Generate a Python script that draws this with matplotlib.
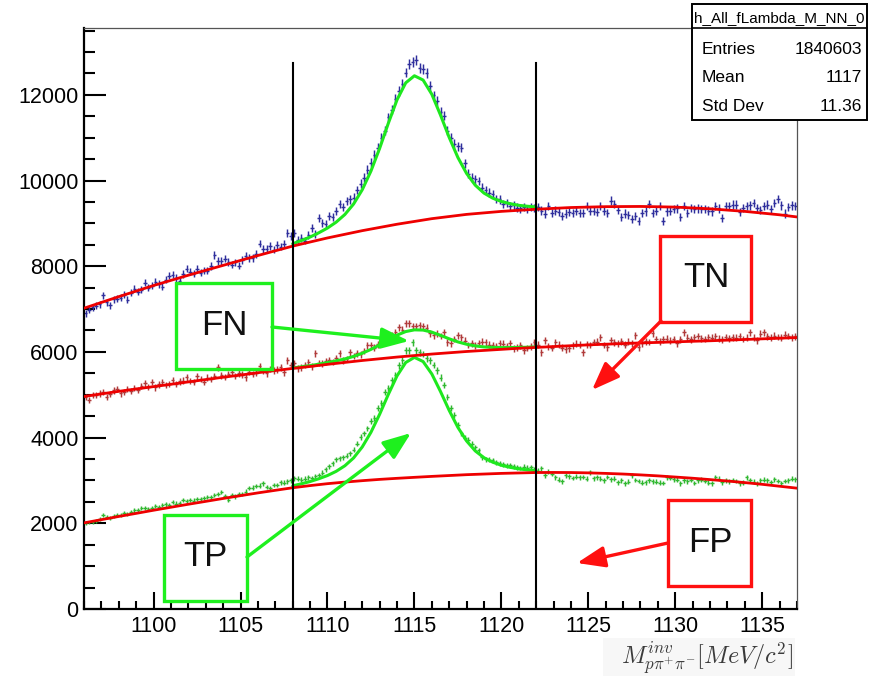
import numpy as np
import matplotlib
matplotlib.use("Agg")
import matplotlib.pyplot as plt
from matplotlib.patches import Rectangle, FancyArrowPatch, ArrowStyle
from matplotlib.lines import Line2D
from matplotlib.ticker import MultipleLocator, FormatStrFormatter

plt.rcParams['font.family'] = ['Liberation Sans', 'DejaVu Sans']
plt.rcParams['mathtext.fontset'] = 'cm'

# ---------------- data ----------------
bin_first_center = 1096.1
bin_width = 0.2

# histogram: all candidates (blue)
all_counts = [
    6900, 6990, 7040, 7080, 7110,
    7320, 7160, 7085, 7225, 7240,
    7270, 7340, 7220, 7380, 7480,
    7410, 7450, 7620, 7500, 7550,
    7640, 7590, 7525, 7690, 7780,
    7805, 7720, 7665, 7820, 7945,
    7875, 7830, 7945, 7850, 7900,
    7900, 8010, 8270, 8130, 8130,
    8180, 8100, 8040, 8090, 8015,
    8150, 8250, 8200, 8200, 8290,
    8530, 8410, 8410, 8480, 8390,
    8505, 8460, 8530, 8785, 8700,
    8785, 8620, 8660, 8600, 8720,
    8900, 8760, 9130, 9000, 8990,
    9180, 9150, 9297, 9460, 9380,
    9520, 9560, 9600, 9780, 9926,
    10066, 10250, 10420, 10600, 10765,
    11000, 11160, 11480, 11650, 11906,
    12090, 12256, 12520, 12720, 12770,
    12815, 12630, 12600, 12510, 12210,
    11990, 11860, 11600, 11510, 11160,
    11000, 10860, 10800, 10765, 10400,
    10160, 10066, 10030, 9990, 9833,
    9780, 9716, 9680, 9576, 9560,
    9460, 9480, 9400, 9420, 9370,
    9350, 9390, 9330, 9380, 9360,
    9380, 9300, 9230, 9410, 9250,
    9300, 9270, 9180, 9230, 9260,
    9240, 9290, 9250, 9240, 9410,
    9290, 9300, 9260, 9410, 9290,
    9250, 9530, 9460, 9320, 9140,
    9230, 9200, 9110, 9170, 9060,
    9250, 9280, 9460, 9250, 9300,
    9410, 9060, 9280, 9300, 9330,
    9350, 9140, 9410, 9250, 9360,
    9340, 9350, 9330, 9340, 9300,
    9280, 9400, 9350, 9130, 9400,
    9410, 9440, 9440, 9260, 9360,
    9400, 9420, 9480, 9360, 9320,
    9410, 9440, 9330, 9480, 9570,
    9420, 9230, 9380, 9420, 9410,
]

# histogram: NN rejected (FN + TN, dark red)
rej_counts = [
    4940, 4880, 4990, 5000, 5030,
    5060, 4950, 5010, 5100, 5130,
    5030, 5060, 5140, 5080, 5150,
    5120, 5210, 5265, 5180, 5290,
    5170, 5240, 5290, 5220, 5250,
    5340, 5260, 5310, 5330, 5405,
    5320, 5300, 5430, 5360, 5290,
    5400, 5370, 5440, 5640, 5450,
    5420, 5490, 5520, 5440, 5500,
    5470, 5405, 5540, 5490, 5510,
    5660, 5560, 5500, 5600, 5570,
    5590, 5640, 5520, 5800, 5690,
    5730, 5615, 5640, 5700, 5755,
    5660, 5965, 5740, 5730, 5780,
    5800, 5760, 5850, 5965, 5800,
    5830, 5990, 5900, 5965, 5940,
    6020, 6150, 6150, 6100, 6180,
    6220, 6315, 6290, 6380, 6455,
    6570, 6520, 6665, 6665, 6600,
    6595, 6620, 6595, 6560, 6430,
    6385, 6420, 6370, 6455, 6220,
    6200, 6300, 6385, 6340, 6260,
    6160, 6200, 6150, 6200, 6240,
    6220, 6170, 6150, 6130, 6200,
    6190, 6140, 6200, 6080, 6105,
    6150, 6035, 6090, 6130, 6220,
    6170, 5990, 6270, 6130, 6090,
    6220, 6170, 6100, 6060, 6080,
    6150, 6190, 6170, 5990, 6180,
    6160, 6230, 6240, 6340, 6160,
    6110, 6280, 6220, 6200, 6250,
    6170, 6240, 6200, 6385, 6105,
    6200, 6250, 6230, 6430, 6300,
    6250, 6290, 6310, 6260, 6300,
    6200, 6290, 6455, 6330, 6290,
    6340, 6370, 6320, 6300, 6340,
    6330, 6360, 6310, 6290, 6350,
    6320, 6340, 6330, 6360, 6300,
    6330, 6455, 6330, 6270, 6420,
    6455, 6360, 6340, 6380, 6350,
    6330, 6400, 6370, 6340, 6360,
]

# histogram: NN accepted (TP + FP, green)
acc_counts = [
    2004, 2020, 2027, 2060, 2110,
    2190, 2150, 2120, 2160, 2190,
    2190, 2250, 2220, 2270, 2300,
    2300, 2353, 2350, 2330, 2360,
    2400, 2377, 2420, 2440, 2430,
    2493, 2460, 2480, 2540, 2520,
    2540, 2530, 2560, 2570, 2590,
    2610, 2620, 2660, 2690, 2726,
    2640, 2540, 2656, 2630, 2690,
    2680, 2740, 2820, 2830, 2870,
    2880, 2936, 2850, 2820, 2890,
    2890, 2960, 2950, 2980, 3000,
    3052, 3040, 3020, 3040, 3075,
    3060, 3100, 3122, 3180, 3260,
    3330, 3400, 3500, 3518, 3540,
    3580, 3635, 3720, 3860, 4010,
    4100, 4215, 4380, 4450, 4683,
    4800, 5056, 5150, 5335, 5450,
    5685, 5800, 6035, 6035, 6220,
    6035, 5990, 5950, 5850, 5800,
    5700, 5570, 5400, 5220, 4940,
    4700, 4520, 4300, 4100, 4000,
    3940, 3850, 3775, 3700, 3540,
    3500, 3480, 3470, 3420, 3400,
    3380, 3360, 3355, 3330, 3310,
    3290, 3320, 3300, 3310, 3250,
    3230, 3285, 3122, 3200, 3150,
    3075, 3020, 2982, 3120, 3100,
    3060, 3090, 3070, 3080, 3040,
    3192, 3050, 3070, 3040, 3005,
    3080, 3030, 3040, 2960, 3000,
    2936, 2970, 3122, 3010, 2990,
    2950, 2960, 3000, 2980, 2970,
    2950, 2940, 3075, 3060, 3030,
    3020, 2936, 3000, 2980, 3010,
    2940, 3005, 3020, 2990, 2950,
    2936, 3075, 3040, 2960, 3005,
    2980, 3010, 2990, 2936, 2950,
    3075, 3000, 2970, 2936, 3005,
    3020, 3000, 2960, 3030, 2990,
    2940, 2990, 3005, 3040, 3029,
]

# background fit curves, sampled every 1 MeV from 1096 to 1137
bkg_x = [1096, 1097, 1098, 1099, 1100, 1101, 1102, 1103, 1104, 1105, 1106,
         1107, 1108, 1109, 1110, 1111, 1112, 1113, 1114, 1115, 1116, 1117,
         1118, 1119, 1120, 1121, 1122, 1123, 1124, 1125, 1126, 1127, 1128,
         1129, 1130, 1131, 1132, 1133, 1134, 1135, 1136, 1137]
all_bkg = [7020, 7155, 7290, 7420, 7550, 7670, 7790, 7905, 8020, 8135, 8250,
           8360, 8470, 8565, 8660, 8745, 8830, 8905, 8980, 9045, 9110, 9160,
           9210, 9245, 9280, 9305, 9330, 9350, 9370, 9380, 9390, 9393, 9395,
           9388, 9380, 9360, 9340, 9310, 9280, 9240, 9200, 9150]
rej_bkg = [4960, 5020, 5080, 5135, 5190, 5245, 5300, 5355, 5410, 5460, 5515,
           5565, 5615, 5660, 5710, 5755, 5800, 5840, 5880, 5915, 5950, 5980,
           6010, 6035, 6060, 6085, 6105, 6125, 6145, 6165, 6180, 6195, 6210,
           6222, 6235, 6248, 6260, 6275, 6290, 6305, 6320, 6335]
acc_bkg = [2010, 2085, 2160, 2232, 2305, 2375, 2445, 2512, 2580, 2645, 2710,
           2770, 2830, 2880, 2925, 2962, 2995, 3025, 3050, 3073, 3095, 3115,
           3135, 3150, 3165, 3175, 3185, 3187, 3185, 3177, 3165, 3150, 3130,
           3107, 3080, 3052, 3020, 2987, 2950, 2910, 2865, 2820]

# signal + background fit curves, sampled every 0.5 MeV from 1108 to 1122
peak_x = [1108.0, 1108.5, 1109.0, 1109.5, 1110.0, 1110.5, 1111.0, 1111.5,
          1112.0, 1112.5, 1113.0, 1113.5, 1114.0, 1114.5, 1115.0, 1115.5,
          1116.0, 1116.5, 1117.0, 1117.5, 1118.0, 1118.5, 1119.0, 1119.5,
          1120.0, 1120.5, 1121.0, 1121.5, 1122.0]
all_peak = [8524, 8600, 8681, 8780, 8891, 9029, 9207, 9451, 9785, 10221,
            10751, 11337, 11884, 12280, 12445, 12345, 12014, 11529, 11006,
            10538, 10165, 9891, 9707, 9589, 9511, 9460, 9421, 9400, 9384]
rej_peak = [5625, 5652, 5680, 5714, 5751, 5791, 5837, 5895, 5969, 6059,
            6166, 6282, 6392, 6475, 6515, 6510, 6462, 6387, 6306, 6234,
            6179, 6140, 6117, 6106, 6101, 6102, 6105, 6109, 6115]
acc_peak = [2875, 2922, 2975, 3040, 3115, 3213, 3343, 3525, 3782, 4124,
            4545, 5009, 5441, 5753, 5873, 5775, 5486, 5076, 4635, 4239,
            3922, 3689, 3531, 3427, 3355, 3307, 3270, 3247, 3230]

cut_window = [1108, 1122]
cut_line_top = 12750

stats_title = "h_All_fLambda_M_NN_0"
stats_names = ["Entries", "Mean", "Std Dev"]
stats_values = ["1840603", "1117", "11.36"]

# ---------------- figure ----------------
W, H = 873, 677
fig = plt.figure(figsize=(W / 100, H / 100), dpi=100)
fig.patch.set_facecolor('white')
ax = fig.add_axes([84 / W, 1 - 609 / H, (797 - 84) / W, (609 - 28) / H])

BLUE_PTS = '#2e2e9c'
RED_PTS = '#b03a3a'
GREEN_PTS = '#30b830'
FIT_RED = '#ee0000'
FIT_GREEN = '#1ee81e'
BOX_GREEN = '#1ef01e'
BOX_RED = '#ff1010'

for counts, col in [(all_counts, BLUE_PTS), (rej_counts, RED_PTS), (acc_counts, GREEN_PTS)]:
    y = np.asarray(counts, dtype=float)
    x = bin_first_center + bin_width * np.arange(len(y))
    ax.errorbar(x, y, yerr=np.sqrt(y), xerr=bin_width / 2, fmt='none',
                ecolor=col, elinewidth=1.05, capsize=0, zorder=2)

for pk in (all_peak, rej_peak, acc_peak):
    ax.plot(peak_x, pk, color=FIT_GREEN, lw=2.2, zorder=3, solid_capstyle='round')
for bk in (all_bkg, rej_bkg, acc_bkg):
    ax.plot(bkg_x, bk, color=FIT_RED, lw=2.0, zorder=4, solid_capstyle='round')

for xc in cut_window:
    ax.plot([xc, xc], [0, cut_line_top], color='black', lw=1.5, zorder=5)

ax.set_xlim(1096, 1137)
ax.set_ylim(0, 13560)
ax.xaxis.set_major_locator(MultipleLocator(5))
ax.xaxis.set_minor_locator(MultipleLocator(1))
ax.yaxis.set_major_locator(MultipleLocator(2000))
ax.yaxis.set_minor_locator(MultipleLocator(500))
ax.xaxis.set_major_formatter(FormatStrFormatter('%d'))
ax.yaxis.set_major_formatter(FormatStrFormatter('%d'))

ax.tick_params(axis='x', which='major', direction='in', length=12.5, width=1.5,
               labelsize=15.5, pad=5, top=False)
ax.tick_params(axis='x', which='minor', direction='in', length=6, width=1.5, top=False)
ax.tick_params(axis='y', which='major', direction='in', length=16, width=1.5,
               labelsize=15.5, pad=4, right=False)
ax.tick_params(axis='y', which='minor', direction='in', length=8, width=1.5, right=False)

for s in ('left', 'bottom'):
    ax.spines[s].set_linewidth(1.6)
    ax.spines[s].set_color('black')
for s in ('top', 'right'):
    ax.spines[s].set_linewidth(0.9)
    ax.spines[s].set_color('#555555')


def fx(px):
    return px / W


def fy(py):
    return 1 - py / H


# annotation boxes with arrows (pixel layout)
annots = [
    ('FN', BOX_GREEN, (176, 283, 272, 369), (224, 335), (272, 327), (409, 341)),
    ('TN', BOX_RED, (660, 236, 751, 322), (706, 287), (661, 321), (592, 390)),
    ('TP', BOX_GREEN, (164, 515, 247, 601), (205, 566), (247, 557), (411, 433)),
    ('FP', BOX_RED, (668, 500, 751, 586), (710, 552), (668, 543), (577, 563)),
]
for label, col, (x0, y0, x1, y1), (tx, ty), (ax0, ay0), (ax1, ay1) in annots:
    fig.add_artist(Rectangle((fx(x0), fy(y1)), (x1 - x0) / W, (y1 - y0) / H,
                             transform=fig.transFigure, fill=False,
                             edgecolor=col, lw=2.4, zorder=8))
    fig.text(fx(tx), fy(ty), label, ha='center', va='baseline', fontsize=25,
             color='#111111', zorder=9)
    arr = FancyArrowPatch((fx(ax0), fy(ay0)), (fx(ax1), fy(ay1)),
                          transform=fig.transFigure,
                          arrowstyle=ArrowStyle('-|>', head_length=1.0, head_width=0.38),
                          mutation_scale=17, color=col, lw=2.4,
                          shrinkA=0, shrinkB=0, zorder=8)
    fig.add_artist(arr)

# stats box
bx0, by0, bx1, by1 = 692, 4, 867, 120
fig.add_artist(Rectangle((fx(bx0), fy(by1)), (bx1 - bx0) / W, (by1 - by0) / H,
                         transform=fig.transFigure, facecolor='white',
                         edgecolor='black', lw=1.4, zorder=10))
fig.add_artist(Line2D([fx(bx0), fx(bx1)], [fy(28), fy(28)],
                      transform=fig.transFigure, color='black', lw=1.2, zorder=11))
fig.text(fx((bx0 + bx1) / 2), fy(22), stats_title, ha='center', va='baseline',
         fontsize=11, zorder=12)
for i, (nm, val) in enumerate(zip(stats_names, stats_values)):
    yb = [54, 82, 111][i]
    fig.text(fx(702), fy(yb), nm, ha='left', va='baseline', fontsize=12.5, zorder=12)
    fig.text(fx(862), fy(yb), val, ha='right', va='baseline', fontsize=12.5, zorder=12)

# x-axis title
fig.add_artist(Rectangle((fx(603), fy(676)), (795 - 603) / W, (676 - 638) / H,
                         transform=fig.transFigure, facecolor='#f7f7f7',
                         edgecolor='none', zorder=1))
fig.text(fx(793), fy(665), r'$M^{inv}_{p\pi^{+}\pi^{-}}[MeV/c^{2}]$',
         ha='right', va='baseline', fontsize=17.5, color='#3a3a3a', zorder=2)

fig.savefig('out.png', dpi=100, facecolor='white')
